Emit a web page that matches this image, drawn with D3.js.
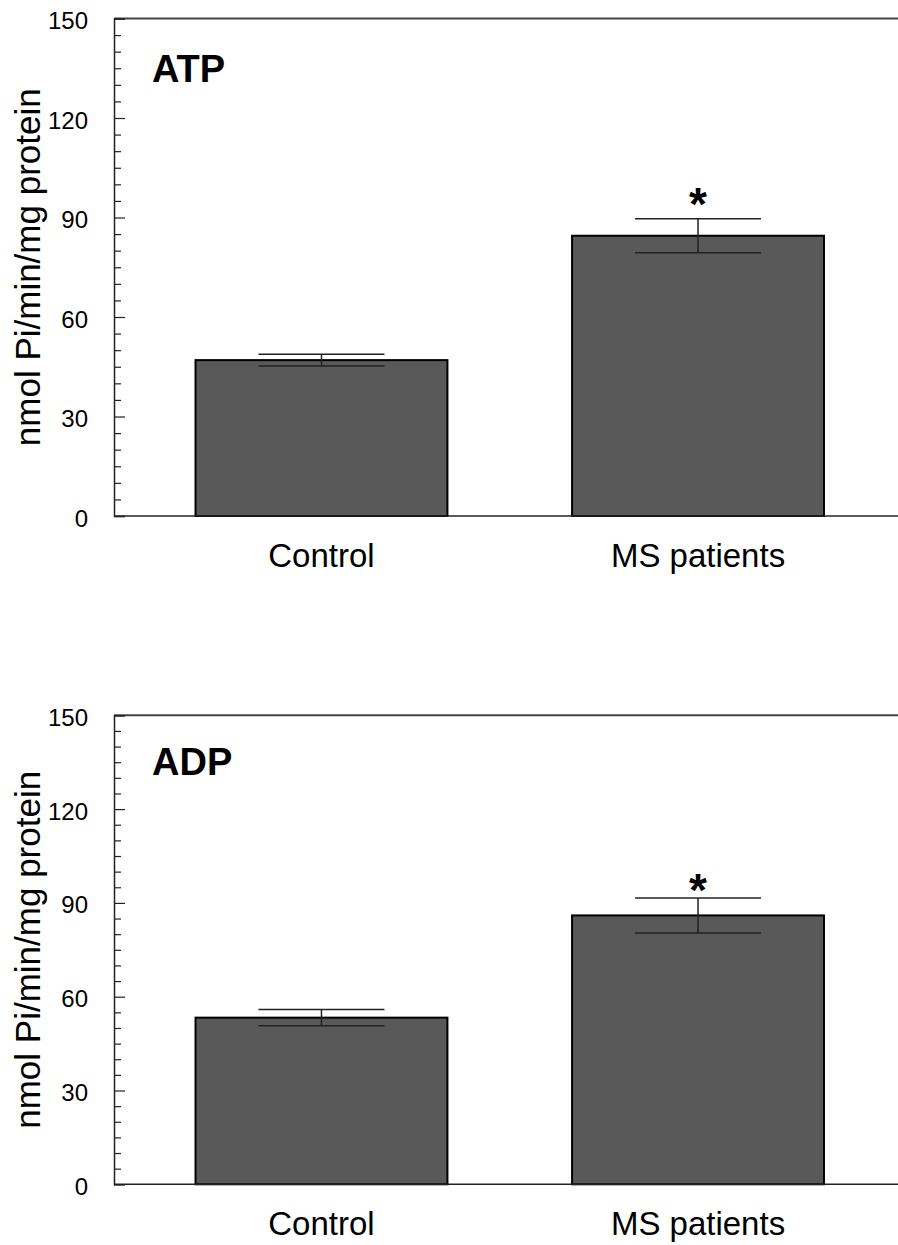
<!DOCTYPE html>
<html>
<head>
<meta charset="utf-8">
<script src="https://cdn.jsdelivr.net/npm/d3@7"></script>
<style>
  html, body { margin: 0; padding: 0; background: #fff; }
  svg { display: block; font-family: "Liberation Sans", Arial, sans-serif; }
</style>
</head>
<body>
<svg id="chart" width="898" height="1245"></svg>
<script>
// ---- data ----
const categories = ["Control", "MS patients"];
const panelTitles = ["ATP", "ADP"];
const atpMeans = [47, 84.5];
const atpErrors = [1.8, 5.1];
const adpMeans = [53.3, 86];
const adpErrors = [2.6, 5.6];
const significant = [false, true];
const yTicks = [0, 30, 60, 90, 120, 150];
const yMinorTicks = [5, 10, 15, 20, 25, 35, 40, 45, 50, 55, 65, 70, 75, 80, 85, 95, 100, 105, 110, 115, 125, 130, 135, 140, 145];
const yLabel = "nmol Pi/min/mg protein";
const starValue = 97;   // height (data units) of the significance star centre
const titleValue = 131; // height (data units) of the panel title baseline

const svg = d3.select("#chart");
const left = 114, right = 898;

const x = d3.scaleBand().domain(categories).range([left, 905.5])
  .paddingInner(0.331).paddingOuter(0.2165);

const panels = [
  { title: panelTitles[0], means: atpMeans, errs: atpErrors, top: 18.5, bottom: 516 },
  { title: panelTitles[1], means: adpMeans, errs: adpErrors, top: 715.3, bottom: 1184.3 }
];

panels.forEach(p => {
  const y = d3.scaleLinear().domain([0, 150]).range([p.bottom, p.top]);
  const g = svg.append("g");

  // top border
  g.append("line").attr("x1", left).attr("x2", right)
    .attr("y1", y(150)).attr("y2", y(150))
    .attr("stroke", "#444").attr("stroke-width", 2);

  // bars
  g.selectAll("rect.bar").data(categories).enter().append("rect")
    .attr("class", "bar")
    .attr("x", d => x(d))
    .attr("width", x.bandwidth())
    .attr("y", (d, i) => y(p.means[i]))
    .attr("height", (d, i) => y(0) - y(p.means[i]))
    .attr("fill", "#595959")
    .attr("stroke", "#000").attr("stroke-width", 2);

  // error bars
  const cap = x.bandwidth() / 4;
  categories.forEach((c, i) => {
    const cx = x(c) + x.bandwidth() / 2;
    const hi = y(p.means[i] + p.errs[i]);
    const lo = y(p.means[i] - p.errs[i]);
    const eg = g.append("g").attr("stroke", "#222").attr("stroke-width", 1.5);
    eg.append("line").attr("x1", cx).attr("x2", cx).attr("y1", hi).attr("y2", lo);
    eg.append("line").attr("x1", cx - cap).attr("x2", cx + cap).attr("y1", hi).attr("y2", hi);
    eg.append("line").attr("x1", cx - cap).attr("x2", cx + cap).attr("y1", lo).attr("y2", lo);
    if (significant[i]) {
      g.append("text").attr("x", cx).attr("y", y(starValue))
        .attr("text-anchor", "middle")
        .attr("font-size", 46).attr("font-weight", "bold").attr("dy", "0.55em")
        .text("*");
    }
  });

  // x baseline
  g.append("line").attr("x1", left).attr("x2", right)
    .attr("y1", y(0)).attr("y2", y(0))
    .attr("stroke", "#222").attr("stroke-width", 1.5);

  // y axis (major)
  const ax = g.append("g").attr("transform", `translate(${left},0)`)
    .call(d3.axisLeft(y).tickValues(yTicks).tickSize(-11).tickPadding(26).tickFormat(d3.format("d")));
  ax.select(".domain").attr("stroke", "#222").attr("stroke-width", 1.5);
  ax.selectAll(".tick line").attr("stroke", "#222").attr("stroke-width", 1.2);
  ax.selectAll(".tick text").attr("font-size", 24).attr("fill", "#000")
    .attr("font-family", "Liberation Sans, Arial, sans-serif").attr("dy", "0.42em");

  // minor ticks
  const mx = g.append("g").attr("transform", `translate(${left},0)`)
    .call(d3.axisLeft(y).tickValues(yMinorTicks).tickSize(-7).tickFormat(""));
  mx.select(".domain").remove();
  mx.selectAll(".tick line").attr("stroke", "#222").attr("stroke-width", 1.2);

  // x labels
  g.selectAll("text.xl").data(categories).enter().append("text")
    .attr("class", "xl")
    .attr("x", d => x(d) + x.bandwidth() / 2)
    .attr("y", y(0) + 51)
    .attr("text-anchor", "middle").attr("font-size", 33).attr("fill", "#000")
    .text(d => d);

  // y label
  g.append("text")
    .attr("transform", `translate(40,${(p.top + p.bottom) / 2}) rotate(-90)`)
    .attr("text-anchor", "middle").attr("font-size", 35).attr("fill", "#000")
    .text(yLabel);

  // panel title
  g.append("text").attr("x", 152).attr("y", y(titleValue))
    .attr("font-size", 38).attr("font-weight", "bold").attr("fill", "#000")
    .text(p.title);
});
</script>
</body>
</html>
